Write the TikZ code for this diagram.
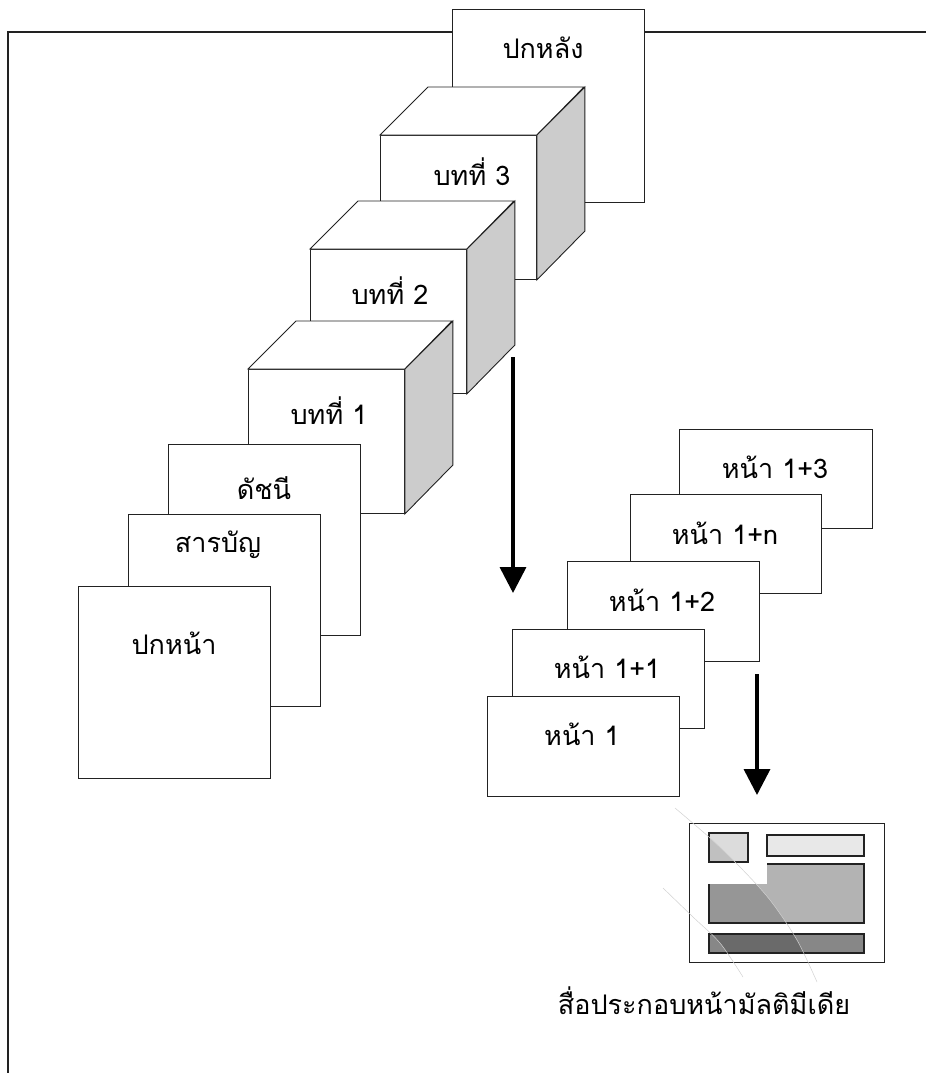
\documentclass[tikz,border=0pt]{standalone}
\usepackage{fontspec}
\newfontfamily\thai[Script=Thai]{Loma}
\usetikzlibrary{arrows.meta}
\definecolor{edge}{HTML}{222222}
\definecolor{side}{HTML}{CCCCCC}
\definecolor{sqlight}{HTML}{DCDCDC}
\definecolor{sqdark}{HTML}{C0C0C0}
\definecolor{barlight}{HTML}{E8E8E8}
\definecolor{biglight}{HTML}{B3B3B3}
\definecolor{bigdark}{HTML}{969696}
\definecolor{botlight}{HTML}{878787}
\definecolor{botdark}{HTML}{6A6A6A}
\tikzset{
  sheet/.style={draw=edge, line width=0.9pt, fill=white, anchor=north west, inner sep=0pt, minimum width=192pt, minimum height=192pt},
  slip/.style={draw=edge, line width=0.9pt, fill=white, anchor=north west, inner sep=0pt, minimum width=192pt, minimum height=99pt},
  cubefront/.style={draw=edge, line width=0.9pt, fill=white, anchor=north west, inner sep=0pt, minimum width=156pt, minimum height=144pt},
  cubeface/.style={draw=edge, line width=0.9pt, fill=white},
  cubeside/.style={draw=edge, line width=0.9pt, fill=side},
  lbl/.style={font=\thai\fontsize{27}{31}\selectfont, inner sep=0pt, anchor=center},
  bigarrow/.style={line width=3.6pt, -{Triangle[width=26pt,length=26pt]}},
  iconpart/.style={draw=edge, line width=1.2pt},
  glossline/.style={draw=black!18, line width=0.5pt}
}
\begin{document}
\begin{tikzpicture}[x=1pt,y=-1pt]
\useasboundingbox (0,0) rectangle (926,1073);
% outer frame
\coordinate (fbl) at (8,1073);
\coordinate (ftl) at (8,32);
\coordinate (ftr) at (926,32);
\draw[edge, line width=1.4pt] (fbl) -- (ftl) -- (ftr);

% back cover
\node[sheet, minimum height=193pt] (back) at (452,9) {};
\node[lbl] (tback) at (543,48) {ปกหลัง};

% chapter 3 cube
\node[cubefront] (c3) at (380,135) {};
\draw[cubeface] (c3.north west) -- ++(48,-48) -- ++(156,0) -- (c3.north east) -- cycle;
\draw[cubeside] (c3.north east) -- ++(48,-48) -- ++(0,144) -- (c3.south east) -- cycle;
\node[lbl] (t3) at (472,172) {บทที่ 3};

% chapter 2 cube
\node[cubefront] (c2) at (310,249) {};
\draw[cubeface] (c2.north west) -- ++(48,-48) -- ++(156,0) -- (c2.north east) -- cycle;
\draw[cubeside] (c2.north east) -- ++(48,-48) -- ++(0,144) -- (c2.south east) -- cycle;
\node[lbl] (t2) at (390,291) {บทที่ 2};

% chapter 1 cube
\node[cubefront] (c1) at (248,369) {};
\draw[cubeface] (c1.north west) -- ++(48,-48) -- ++(156,0) -- (c1.north east) -- cycle;
\draw[cubeside] (c1.north east) -- ++(48,-48) -- ++(0,144) -- (c1.south east) -- cycle;
\node[lbl] (t1) at (329,411) {บทที่ 1};

% index, contents, front cover
\node[sheet, minimum height=191pt] (idx) at (168,444) {};
\node[lbl] (tidx) at (264,488) {ดัชนี};
\node[sheet] (toc) at (128,514) {};
\node[lbl] (ttoc) at (218,545) {สารบัญ};
\node[sheet] (front) at (78,586) {};
\node[lbl] (tfront) at (174,643) {ปกหน้า};

% arrow 1
\coordinate (a1s) at (513,357);
\coordinate (a1e) at (513,593);
\draw[bigarrow] (a1s) -- (a1e);

% page stack
\node[slip, minimum width=193pt] (p13) at (679,429) {};
\node[lbl] (tp13) at (775,467) {หน้า 1+3};
\node[slip, minimum width=191pt] (p1n) at (630,494) {};
\node[lbl] (tp1n) at (725,533) {หน้า 1+n};
\node[slip, minimum height=100pt] (p12) at (567,561) {};
\node[lbl] (tp12) at (662,600) {หน้า 1+2};
\node[slip] (p11) at (512,629) {};
\node[lbl] (tp11) at (607,667) {หน้า 1+1};
\node[slip, minimum height=100pt] (p1) at (487,696) {};
\node[lbl] (tp1) at (582,734) {หน้า 1};

% arrow 2
\coordinate (a2s) at (757,674);
\coordinate (a2e) at (757,795);
\draw[bigarrow] (a2s) -- (a2e);

% multimedia icon
\node[draw=edge, line width=1.3pt, fill=white, anchor=north west, inner sep=0pt, minimum width=195pt, minimum height=139pt] (icon) at (689,823) {};
\fill[sqlight] (709,833) rectangle (748,862);
\fill[barlight] (767,835) rectangle (864,856);
\fill[biglight] (767,864) -- (864,864) -- (864,923) -- (709,923) -- (709,884) -- (767,884) -- cycle;
\fill[botlight] (709,934) rectangle (864,953);
\begin{scope}
  \clip plot[smooth] coordinates {(660,790) (675,808) (710,838) (740,867) (770,900) (797,940) (817,982)}
        -- (743,977) -- plot[smooth] coordinates {(743,977) (720,943) (693,917) (663,888) (640,868)} -- cycle;
  \fill[sqdark] (709,833) rectangle (748,862);
  \fill[bigdark] (767,864) -- (864,864) -- (864,923) -- (709,923) -- (709,884) -- (767,884) -- cycle;
  \fill[botdark] (709,934) rectangle (864,953);
\end{scope}
\draw[iconpart] (709,833) rectangle (748,862);
\draw[iconpart] (767,835) rectangle (864,856);
\draw[iconpart] (767,864) -- (864,864) -- (864,923) -- (709,923) -- (709,884);
\draw[iconpart] (709,934) rectangle (864,953);
\draw[glossline] plot[smooth] coordinates {(675,808) (710,838) (740,867) (770,900) (797,940) (817,982)};
\draw[glossline] plot[smooth] coordinates {(663,888) (693,917) (720,943) (743,977)};
\node[lbl] (ticon) at (704,1001) {สื่อประกอบหน้ามัลติมีเดีย};
\end{tikzpicture}
\end{document}
